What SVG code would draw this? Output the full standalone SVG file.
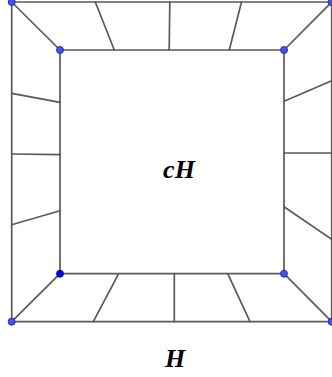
<svg xmlns="http://www.w3.org/2000/svg" width="332" height="377" viewBox="0 0 332 377">
<style>
.e{stroke:#595959;stroke-width:1.7;fill:none;stroke-linecap:round}
.p{fill:#4d4dff;stroke:#1a1a66;stroke-width:0.8}
.q{fill:#0000ff;stroke:#00004d;stroke-width:0.8}
.t{font-family:"Liberation Serif",serif;font-weight:bold;font-style:italic;font-size:26px;fill:#000;text-anchor:middle}
</style>
<rect width="332" height="377" fill="#fff"/>
<g id="connectors">
<polygon class="e" points="11.7,2 331.7,2 331.7,321.7 11.7,321.7"/>
<polygon class="e" points="60,50 284,50 284,273.7 60,273.7"/>
<line class="e" x1="11.7" y1="2" x2="60" y2="50"/>
<line class="e" x1="331.7" y1="2" x2="284" y2="50"/>
<line class="e" x1="11.7" y1="321.7" x2="60" y2="273.7"/>
<line class="e" x1="331.7" y1="321.7" x2="284" y2="273.7"/>
<line class="e" x1="95.3" y1="2" x2="114.3" y2="50"/>
<line class="e" x1="169.8" y1="2" x2="169.2" y2="50"/>
<line class="e" x1="241.5" y1="2" x2="229.3" y2="50"/>
<line class="e" x1="93.3" y1="321.7" x2="118.7" y2="273.7"/>
<line class="e" x1="174.3" y1="321.7" x2="174.3" y2="273.7"/>
<line class="e" x1="250" y1="321.7" x2="227.7" y2="273.7"/>
<line class="e" x1="11.7" y1="93.3" x2="60" y2="102.3"/>
<line class="e" x1="11.7" y1="154" x2="60" y2="154.7"/>
<line class="e" x1="11.7" y1="224.7" x2="60" y2="210.7"/>
<line class="e" x1="331.7" y1="80.7" x2="284" y2="101.3"/>
<line class="e" x1="331.7" y1="153" x2="284" y2="153"/>
<line class="e" x1="331.7" y1="239.3" x2="284" y2="206.7"/>
</g>
<g id="outer-tl"><circle class="p" cx="11.7" cy="2" r="3.5"/></g>
<g id="outer-tr"><circle class="p" cx="331.7" cy="2" r="3.5"/></g>
<g id="outer-bl"><circle class="p" cx="11.7" cy="321.7" r="3.5"/></g>
<g id="outer-br"><circle class="p" cx="331.7" cy="321.7" r="3.5"/></g>
<g id="inner-tl"><circle class="p" cx="60" cy="50" r="3.5"/></g>
<g id="inner-tr"><circle class="p" cx="284" cy="50" r="3.5"/></g>
<g id="inner-bl"><circle class="q" cx="60" cy="273.7" r="3.5"/></g>
<g id="inner-br"><circle class="p" cx="284" cy="273.7" r="3.5"/></g>
<g id="label-cH"><text class="t" x="179" y="178">cH</text></g>
<g id="label-H"><text class="t" x="175" y="367">H</text></g>
</svg>
